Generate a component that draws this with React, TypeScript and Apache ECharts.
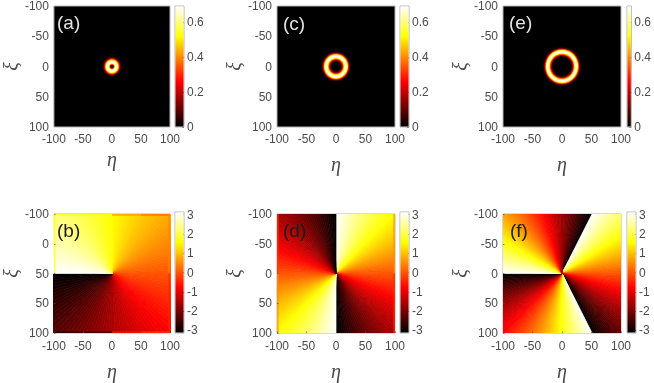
import React, { useEffect, useRef } from "react";
import * as echarts from "echarts";

// Tick labels
const xTickLabels = ["-100", "-50", "0", "50", "100"];
const yTickLabels = ["-100", "-50", "0", "50", "100"];
const yTickLabelsB = ["-100", "0", "50", "50", "100"];
const intensityTicks = [0, 0.2, 0.4, 0.6];
const phaseTicks = [-3, -2, -1, 0, 1, 2, 3];

// Radial intensity profiles: [radius, intensity]
const ringA = [[0,0],[1,.01],[2,.06],[3,.2],[4,.38],[5,.55],[6,.66],[7,.69],[8,.69],[9,.66],[10,.58],[11,.47],[12,.35],[13,.23],[14,.13],[15,.06],[16,.02]];
const ringC = [[6,0],[7,.01],[8,.03],[9,.07],[10,.13],[11,.22],[12,.33],[13,.45],[14,.56],[15,.64],[16,.68],[17,.69],[18,.66],[19,.58],[20,.46],[21,.32],[22,.19],[23,.09],[24,.04],[25,.01]];
const ringE = [[14,0],[15,.01],[16,.03],[17,.07],[18,.14],[19,.24],[20,.36],[21,.48],[22,.59],[23,.66],[24,.69],[25,.68],[26,.62],[27,.5],[28,.36],[29,.22],[30,.11],[31,.05],[32,.02]];

// Phase per angular wedge, clockwise from the top of each panel
const phaseB = [
  1.54,1.49,1.44,1.39,1.34,1.28,1.23,1.18,1.13,1.07,1.02,.97,.92,.86,.81,.76,.71,.65,.6,.55,.5,.44,.39,.34,.29,.24,.18,.13,.08,.03,
  -.03,-.08,-.13,-.18,-.24,-.29,-.34,-.39,-.44,-.5,-.55,-.6,-.65,-.71,-.76,-.81,-.86,-.92,-.97,-1.02,-1.07,-1.13,-1.18,-1.23,-1.28,-1.34,-1.39,-1.44,-1.49,-1.54,
  -1.6,-1.65,-1.7,-1.75,-1.81,-1.86,-1.91,-1.96,-2.01,-2.07,-2.12,-2.17,-2.22,-2.28,-2.33,-2.38,-2.43,-2.49,-2.54,-2.59,-2.64,-2.7,-2.75,-2.8,-2.85,-2.91,-2.96,-3.01,-3.06,-3.12,
  3.12,3.06,3.01,2.96,2.91,2.85,2.8,2.75,2.7,2.64,2.59,2.54,2.49,2.43,2.38,2.33,2.28,2.22,2.17,2.12,2.07,2.01,1.96,1.91,1.86,1.81,1.75,1.7,1.65,1.6,
];
const phaseDHalf = [
  3.11,3.04,2.97,2.9,2.83,2.76,2.69,2.62,2.55,2.48,2.41,2.34,2.27,2.2,2.13,2.06,1.99,1.92,1.85,1.78,1.71,1.64,1.57,1.5,1.43,1.36,1.29,1.22,1.15,1.08,1.01,.94,.87,.8,.73,.66,.59,.52,.45,.38,.31,.24,.17,.1,.03,
  -.03,-.1,-.17,-.24,-.31,-.38,-.45,-.52,-.59,-.66,-.73,-.8,-.87,-.94,-1.01,-1.08,-1.15,-1.22,-1.29,-1.36,-1.43,-1.5,-1.57,-1.64,-1.71,-1.78,-1.85,-1.92,-1.99,-2.06,-2.13,-2.2,-2.27,-2.34,-2.41,-2.48,-2.55,-2.62,-2.69,-2.76,-2.83,-2.9,-2.97,-3.04,-3.11,
];
const phaseD = [...phaseDHalf, ...phaseDHalf];
const phaseFLong = [
  3.1,3.03,2.95,2.88,2.8,2.73,2.65,2.58,2.5,2.43,2.35,2.28,2.2,2.13,2.05,1.98,1.9,1.83,1.75,1.68,1.61,1.53,1.46,1.38,1.31,1.23,1.16,1.08,1.01,.93,.86,.78,.71,.63,.56,.49,.41,.34,.26,.19,.11,.04,
  -.04,-.11,-.19,-.26,-.34,-.41,-.49,-.56,-.63,-.71,-.78,-.86,-.93,-1.01,-1.08,-1.16,-1.23,-1.31,-1.38,-1.46,-1.53,-1.61,-1.68,-1.75,-1.83,-1.9,-1.98,-2.05,-2.13,-2.2,-2.28,-2.35,-2.43,-2.5,-2.58,-2.65,-2.73,-2.8,-2.88,-2.95,-3.03,-3.1,
];
const phaseFShort = [
  3.1,3.02,2.94,2.86,2.78,2.7,2.62,2.54,2.46,2.38,2.3,2.22,2.13,2.05,1.97,1.89,1.81,1.73,1.65,1.57,1.49,1.41,1.33,1.25,1.17,1.09,1.01,.93,.85,.77,.69,.6,.52,.44,.36,.28,.2,.12,.04,
  -.04,-.12,-.2,-.28,-.36,-.44,-.52,-.6,-.69,-.77,-.85,-.93,-1.01,-1.09,-1.17,-1.25,-1.33,-1.41,-1.49,-1.57,-1.65,-1.73,-1.81,-1.89,-1.97,-2.05,-2.13,-2.22,-2.3,-2.38,-2.46,-2.54,-2.62,-2.7,-2.78,-2.86,-2.94,-3.02,-3.1,
];
const phaseF = [...phaseFShort.slice(60), ...phaseFLong, ...phaseFShort, ...phaseFShort.slice(0, 60)];

// Thin strips along the panel borders, where the phase departs from the fan: [x0, y0, x1, y1, phase]
const edgesB = [
  [-100,-100,0,-97,1.75],[0,-100,50,-97,.55],[50,-100,100,-97,.1],
  [-100,-100,-97,0,1.75],[97,-100,100,0,.45],[97,0,100,100,-.45],
  [-100,97,0,100,-2.9],[0,97,50,100,-.55],[50,97,100,100,-.2],
];
const edgesD = [
  [-100,-100,-97,0,-.3],[-100,0,-97,100,.55],[97,-100,100,0,.55],[97,0,100,100,-.35],
];

const intensityMax = 0.694;
const phaseMax = 3.1416;
const font = "'Liberation Sans', Arial, sans-serif";
const textColor = "#4a4a4a";
const frameColor = "#b4b4b4";

const hotStops = [
  { offset: 0, color: "#000000" },
  { offset: 0.375, color: "#ff0000" },
  { offset: 0.75, color: "#ffff00" },
  { offset: 1, color: "#ffffff" },
];

function hot(t: number) {
  const x = Math.max(0, Math.min(1, t));
  const r = Math.min(1, x / 0.375);
  const g = Math.max(0, Math.min(1, (x - 0.375) / 0.375));
  const b = Math.max(0, Math.min(1, (x - 0.75) / 0.25));
  return `rgb(${Math.round(r * 255)},${Math.round(g * 255)},${Math.round(b * 255)})`;
}

const panels = [
  { tag: "(a)", tagColor: "#e4e4e4", left: 52, barLeft: 175, top: 6, h: 121, ring: ringA, yLabels: yTickLabels, nameX: 22, nameY: 31, tagX: 57, tagY: 24, labelMargin: 6 },
  { tag: "(b)", tagColor: "#1c1c1c", left: 52, barLeft: 175, top: 214, h: 119, phase: phaseB, edges: edgesB, yLabels: yTickLabelsB, nameX: 28, nameY: 31, tagX: 57, tagY: 232, labelMargin: 7 },
  { tag: "(c)", tagColor: "#e4e4e4", left: 277, barLeft: 400, top: 6, h: 121, ring: ringC, yLabels: yTickLabels, nameX: 27, nameY: 31, tagX: 283, tagY: 25, labelMargin: 6 },
  { tag: "(d)", tagColor: "#1c1c1c", left: 277, barLeft: 400, top: 214, h: 119, phase: phaseD, edges: edgesD, yLabels: yTickLabels, nameX: 28, nameY: 31, tagX: 283, tagY: 232, labelMargin: 7 },
  { tag: "(e)", tagColor: "#e4e4e4", left: 503, barLeft: 627, top: 6, h: 121, ring: ringE, yLabels: yTickLabels, nameX: 27, nameY: 26, tagX: 509, tagY: 24, labelMargin: 6 },
  { tag: "(f)", tagColor: "#1c1c1c", left: 503, barLeft: 627, top: 214, h: 119, phase: phaseF, yLabels: yTickLabels, nameX: 28, nameY: 32, tagX: 510, tagY: 232, labelMargin: 7 },
];

const discItem = (_p: any, api: any) => {
  const c = api.coord([0, 0]);
  const s = api.size([api.value(0) + 0.5, 0]);
  const s2 = api.size([0, api.value(0) + 0.5]);
  return {
    type: "ellipse",
    shape: { cx: c[0], cy: c[1], rx: s[0], ry: s2[1] },
    style: { fill: hot(api.value(1) / intensityMax) },
  };
};

const phaseColor = (v: number) => hot((v + phaseMax) / (2 * phaseMax));

const wedgeItem = (_p: any, api: any) => {
  const R = 170;
  const a0 = (api.value(0) * Math.PI) / 180;
  const a1 = (api.value(1) * Math.PI) / 180;
  const color = phaseColor(api.value(2));
  return {
    type: "polygon",
    shape: {
      points: [
        api.coord([0, 0]),
        api.coord([R * Math.sin(a0), -R * Math.cos(a0)]),
        api.coord([R * Math.sin(a1), -R * Math.cos(a1)]),
      ],
    },
    style: { fill: color, stroke: color, lineWidth: 0.7 },
  };
};

const edgeItem = (_p: any, api: any) => {
  const a = api.coord([api.value(0), api.value(1)]);
  const b = api.coord([api.value(2), api.value(3)]);
  return {
    type: "rect",
    shape: { x: a[0], y: a[1], width: b[0] - a[0], height: b[1] - a[1] },
    style: { fill: phaseColor(api.value(4)), opacity: 0.65 },
  };
};

const barItem = (_p: any, api: any) => {
  const a = api.coord([0, api.value(1)]);
  const b = api.coord([1, api.value(0)]);
  return {
    type: "rect",
    shape: { x: a[0] + 0.5, y: a[1] + 0.5, width: b[0] - a[0] - 1, height: b[1] - a[1] - 1 },
    style: {
      fill: new echarts.graphic.LinearGradient(0, 1, 0, 0, hotStops),
    },
  };
};

function buildOption() {
  const grid: any[] = [];
  const xAxis: any[] = [];
  const yAxis: any[] = [];
  const series: any[] = [];
  const graphic: any[] = [];
  const label = { color: textColor, fontFamily: font, fontSize: 12 };

  panels.forEach((p: any) => {
    const idx = grid.length;
    grid.push({
      show: true, left: p.left, top: p.top, width: 118, height: p.h,
      backgroundColor: p.ring ? "#000" : "#fff", borderColor: frameColor, borderWidth: 1,
    });
    const nameStyle = { color: textColor, fontFamily: "'Liberation Serif', 'DejaVu Serif', serif", fontStyle: "italic", fontSize: 20 };
    const tick = { show: !p.ring, inside: true, length: 1.5, lineStyle: { color: "rgba(80,80,80,0.7)" } };
    xAxis.push({
      gridIndex: idx, type: "value", min: -100, max: 100, interval: 50, z: 5,
      name: "η", nameLocation: "middle", nameGap: p.nameX, nameTextStyle: nameStyle,
      axisLine: { show: false, onZero: false }, splitLine: { show: false }, axisTick: tick,
      axisLabel: { ...label, margin: p.labelMargin, formatter: (v: number) => xTickLabels[(v + 100) / 50] },
    });
    yAxis.push({
      gridIndex: idx, type: "value", inverse: true, min: -100, max: 100, interval: 50, z: 5,
      name: "ξ", nameLocation: "middle", nameGap: p.nameY, nameTextStyle: nameStyle,
      axisLine: { show: false, onZero: false }, splitLine: { show: false }, axisTick: tick,
      axisLabel: { ...label, margin: 5, formatter: (v: number) => p.yLabels[(v + 100) / 50] },
    });
    if (p.ring) {
      const discs = [...p.ring].reverse();
      series.push({
        type: "custom", coordinateSystem: "cartesian2d", xAxisIndex: idx, yAxisIndex: idx,
        clip: true, renderItem: discItem, data: discs, encode: { x: 0, y: 1 }, silent: true,
      });
    } else {
      const step = 360 / p.phase.length;
      series.push({
        type: "custom", coordinateSystem: "cartesian2d", xAxisIndex: idx, yAxisIndex: idx,
        clip: true, renderItem: wedgeItem, silent: true, encode: { x: 0, y: 2 },
        data: p.phase.map((v: number, i: number) => [i * step, (i + 1) * step, v]),
      });
      if (p.edges) {
        series.push({
          type: "custom", coordinateSystem: "cartesian2d", xAxisIndex: idx, yAxisIndex: idx,
          clip: true, renderItem: edgeItem, silent: true, encode: { x: [0, 2], y: [1, 3] },
          data: p.edges,
        });
      }
    }

    const bIdx = grid.length;
    const lo = p.ring ? 0 : -phaseMax;
    const hi = p.ring ? intensityMax : phaseMax;
    const ticks = p.ring ? intensityTicks : phaseTicks;
    grid.push({
      show: true, left: p.barLeft, top: p.top - (p.ring ? 0 : 2), width: 9, height: p.h + (p.ring ? 0 : 2),
      backgroundColor: "#fff", borderColor: frameColor, borderWidth: 1,
    });
    xAxis.push({ gridIndex: bIdx, type: "value", min: 0, max: 1, show: false });
    yAxis.push({
      gridIndex: bIdx, type: "value", position: "right", min: lo, max: hi,
      axisLine: { show: false, onZero: false }, splitLine: { show: false },
      axisTick: { show: true, inside: true, length: 2, lineStyle: { color: "#888" }, customValues: ticks },
      axisLabel: { ...label, margin: 3, customValues: ticks, hideOverlap: false, formatter: (v: number) => String(v) },
    });
    series.push({
      type: "custom", coordinateSystem: "cartesian2d", xAxisIndex: bIdx, yAxisIndex: bIdx,
      renderItem: barItem, silent: true, data: [[lo, hi]], encode: { y: [0, 1] },
    });

    graphic.push({
      type: "text", left: p.tagX, top: p.tagY - 11, z: 10, silent: true,
      style: { text: p.tag, fill: p.tagColor, font: `19px ${font}` },
    });
  });
  return { animation: false, backgroundColor: "#fff", grid, xAxis, yAxis, series, graphic };
}

export default function App() {
  const ref = useRef<HTMLDivElement>(null);
  useEffect(() => {
    const chart = echarts.init(ref.current!, undefined, { renderer: "svg" });
    chart.setOption(buildOption() as any);
    return () => chart.dispose();
  }, []);
  return (
    <div
      ref={ref}
      style={{ position: "absolute", left: 0, top: 0, width: 654, height: 383, filter: "blur(0.6px)" }}
    />
  );
}
